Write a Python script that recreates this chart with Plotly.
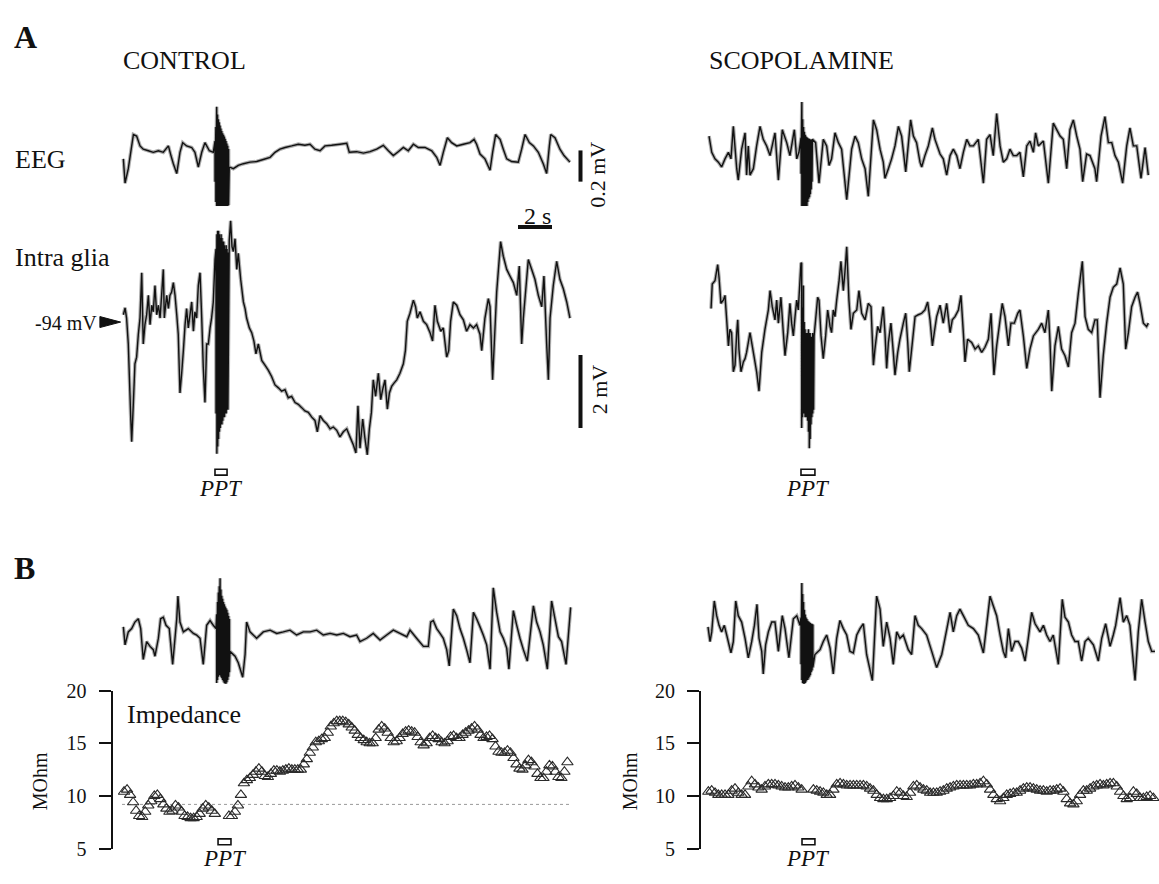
import numpy as np
import plotly.graph_objects as go

W, H = 1159, 884
FONT = "Liberation Serif"
INK = "#111111"

# ---------------- A, CONTROL ----------------
# EEG, (time s, µV)
ctrl_eeg = [(0.08, -54), (0.18, -210), (0.37, -117), (0.67, 102), (0.86, 92), (1.06, 29), (1.25, 8), (1.55, -2),
            (1.84, -12), (2.14, -2), (2.43, -12), (2.73, 29), (2.88, -33), (3.02, -85), (3.22, -148), (3.41, -12),
            (3.57, 50), (3.80, 29), (4.10, 19), (4.29, -12), (4.49, -106), (4.69, -12), (4.88, 50), (5.14, -2),
            (5.37, -12), (6.31, -106), (6.55, -117), (6.84, -96), (7.14, -85), (7.53, -75), (7.92, -71), (8.31, -58),
            (8.71, -44), (9.00, -12), (9.29, 8), (9.59, 19), (9.98, 29), (10.37, 40), (10.76, 33), (11.06, 40),
            (11.35, 8), (11.65, -2), (11.94, 29), (12.33, 33), (12.82, 40), (13.22, 46), (13.37, -12), (13.80, -8),
            (14.20, -17), (14.59, -8), (14.98, 8), (15.37, 33), (15.67, -2), (15.96, -33), (16.25, -8), (16.55, 19),
            (16.84, -2), (17.14, 40), (17.43, 19), (17.82, 19), (18.22, -2), (18.51, -44), (18.71, -96), (18.90, -12),
            (19.14, 81), (19.39, 50), (19.69, 29), (20.08, 40), (20.47, 50), (20.71, 71), (20.86, 40), (21.06, -23),
            (21.35, -54), (21.65, -127), (21.80, -12), (21.98, 102), (22.24, 71), (22.43, 8), (22.63, -54),
            (22.92, -71), (23.31, -75), (23.51, 8), (23.71, 102), (23.96, 50), (24.20, 29), (24.49, -12), (24.78, -85),
            (24.98, -148), (25.14, 29), (25.22, 102), (25.47, 81), (25.76, 8), (26.00, -33), (26.35, -75)]
# stimulation artefact: (time s, upper µV, lower µV)
ctrl_eeg_ppt = [(5.47, 60, -200), (5.52, 150, -330), (5.57, 280, -390), (5.62, 230, -400), (5.67, 200, -410),
                (5.72, 180, -415), (5.77, 160, -420), (5.82, 140, -420), (5.87, 125, -425), (5.92, 110, -425),
                (5.97, 100, -430), (6.02, 90, -430), (6.07, 75, -425), (6.12, 60, -420), (6.17, 45, -415),
                (6.22, 30, -400), (6.27, 10, -350)]

# intracellular glia, (time s, mV)
ctrl_intra = [(0.08, -93.80), (0.18, -93.61), (0.27, -93.89), (0.37, -94.60), (0.51, -96.56), (0.57, -97.27),
              (0.67, -96.20), (0.76, -95.14), (0.86, -94.96), (0.96, -94.34), (1.06, -93.89), (1.16, -92.65),
              (1.25, -94.60), (1.35, -94.07), (1.45, -93.80), (1.55, -93.27), (1.65, -94.07), (1.75, -93.54),
              (1.84, -93.72), (1.94, -93.00), (2.04, -93.80), (2.14, -93.54), (2.24, -93.89), (2.33, -93.27),
              (2.43, -92.56), (2.49, -93.89), (2.63, -93.27), (2.73, -93.63), (2.82, -93.27), (2.92, -93.18),
              (3.02, -92.92), (3.12, -93.27), (3.22, -93.80), (3.31, -94.34), (3.41, -95.94), (3.51, -95.40),
              (3.61, -94.78), (3.71, -94.07), (3.80, -93.63), (3.90, -94.16), (4.00, -93.80), (4.10, -93.45),
              (4.20, -94.25), (4.29, -93.72), (4.39, -93.89), (4.49, -93.00), (4.59, -92.65), (4.69, -93.89),
              (4.78, -95.23), (4.88, -96.20), (4.98, -94.60), (5.08, -94.60), (5.18, -94.16), (5.27, -93.89),
              (5.37, -93.45), (5.47, -92.29),
              (6.31, -91.76), (6.39, -91.23), (6.47, -91.94), (6.55, -92.07), (6.65, -91.72), (6.75, -92.56),
              (6.84, -92.12), (6.98, -92.83), (7.14, -93.45), (7.24, -93.63), (7.33, -93.89), (7.49, -94.16),
              (7.63, -94.29), (7.76, -94.52), (7.88, -94.87), (8.02, -94.60), (8.22, -95.05), (8.41, -95.18),
              (8.61, -95.32), (8.80, -95.49), (9.00, -95.72), (9.20, -95.80), (9.39, -95.89), (9.59, -95.85),
              (9.78, -96.07), (9.98, -96.03), (10.18, -96.20), (10.37, -96.25), (10.57, -96.34), (10.76, -96.43),
              (10.96, -96.47), (11.16, -96.60), (11.35, -96.69), (11.49, -97.00), (11.65, -96.56), (11.84, -96.69),
              (12.04, -96.78), (12.24, -96.92), (12.43, -96.87), (12.63, -96.96), (12.82, -97.14), (13.02, -97.00),
              (13.22, -96.92), (13.41, -97.14), (13.61, -97.36), (13.76, -97.58), (13.88, -96.29), (14.00, -97.45),
              (14.16, -96.65), (14.29, -97.18), (14.43, -97.63), (14.55, -96.92), (14.67, -96.47), (14.78, -95.58),
              (14.92, -96.03), (15.08, -95.40), (15.22, -96.12), (15.33, -95.85), (15.47, -95.58), (15.61, -96.38),
              (15.73, -95.94), (15.86, -95.76), (16.00, -95.67), (16.16, -95.58), (16.35, -95.40), (16.55, -95.14),
              (16.67, -94.78), (16.78, -93.98), (16.94, -93.76), (17.14, -93.40), (17.27, -93.58), (17.37, -93.89),
              (17.53, -93.72), (17.73, -93.98), (17.92, -94.07), (18.12, -94.29), (18.27, -94.52), (18.41, -93.54),
              (18.55, -93.98), (18.75, -94.25), (18.90, -94.16), (19.10, -94.96), (19.22, -94.78), (19.33, -93.98),
              (19.49, -93.45), (19.69, -93.54), (19.88, -93.80), (20.08, -93.94), (20.27, -94.25), (20.47, -94.07),
              (20.67, -94.16), (20.86, -94.07), (21.06, -94.34), (21.16, -94.78), (21.35, -93.89), (21.55, -93.36),
              (21.65, -93.58), (21.80, -95.58), (22.04, -93.18), (22.27, -91.80), (22.43, -92.20), (22.63, -92.56),
              (22.82, -92.74), (23.02, -92.92), (23.22, -93.27), (23.37, -92.47), (23.51, -94.60), (23.61, -93.89),
              (23.90, -92.29), (24.10, -92.56), (24.29, -92.83), (24.49, -93.27), (24.69, -93.58), (24.82, -92.74),
              (24.98, -94.60), (25.08, -95.58), (25.18, -93.89), (25.37, -93.00), (25.57, -92.34), (25.76, -92.83),
              (25.96, -93.09), (26.16, -93.45), (26.35, -93.89)]
ctrl_intra_ppt = [(5.53, -92.0, -96.5), (5.58, -91.6, -97.6), (5.63, -91.5, -97.4), (5.68, -91.5, -97.2),
                  (5.73, -91.6, -97.0), (5.78, -91.7, -96.9), (5.83, -91.6, -96.8), (5.88, -91.7, -96.8),
                  (5.93, -91.8, -96.7), (5.98, -91.8, -96.6), (6.03, -91.9, -96.6), (6.08, -92.0, -96.5),
                  (6.13, -91.9, -96.5), (6.18, -92.0, -96.4), (6.23, -92.1, -96.4)]

# ---------------- A, SCOPOLAMINE ----------------
scop_eeg = [(0.06, 92), (0.22, -12), (0.41, -54), (0.61, -75), (0.80, -106), (1.00, -54), (1.20, -12), (1.35, -54),
            (1.49, 154), (1.69, -117), (1.78, -190), (1.98, 8), (2.18, 113), (2.27, -158), (2.37, 29), (2.47, -158),
            (2.67, -117), (2.86, 29), (3.06, 154), (3.25, 71), (3.45, 29), (3.65, -33), (3.94, 113), (4.14, -190),
            (4.37, 133), (4.63, 50), (4.82, -33), (5.08, 133), (5.22, -54), (5.35, -12),
            (6.14, 71), (6.33, 50), (6.53, -210), (6.78, 71), (6.98, 29), (7.12, -96), (7.27, -54), (7.47, 113),
            (7.67, 50), (7.86, 8), (8.16, -315), (8.45, 8), (8.65, 92), (8.84, 50), (9.04, -54), (9.24, -117),
            (9.43, -294), (9.73, 196), (9.92, 133), (10.12, 8), (10.31, -75), (10.41, -179), (10.61, -117),
            (10.80, -54), (11.00, 29), (11.20, 154), (11.39, 92), (11.63, -137), (11.92, 196), (12.08, 92),
            (12.27, 50), (12.47, -75), (12.57, -106), (12.76, -33), (12.96, 29), (13.20, 144), (13.35, 71),
            (13.65, -23), (13.84, -54), (14.04, -158), (14.24, -33), (14.43, 8), (14.63, -33), (14.82, -117),
            (15.02, -12), (15.22, 71), (15.41, 29), (15.61, 29), (15.90, 71), (16.20, -210), (16.39, 71),
            (16.59, 102), (16.78, -33), (16.98, 237), (17.18, 29), (17.37, -75), (17.57, -54), (17.76, 8),
            (17.96, -33), (18.16, -33), (18.35, -12), (18.55, -169), (18.75, 29), (18.94, 60), (19.14, -12),
            (19.27, 113), (19.43, 29), (19.73, 60), (20.02, -210), (20.31, 175), (20.51, 133), (20.71, 92),
            (20.90, 71), (21.10, -117), (21.29, 133), (21.49, 196), (21.69, 92), (21.88, 8), (22.04, -200),
            (22.27, -23), (22.47, -33), (22.76, -117), (22.86, -200), (23.12, 92), (23.35, 217), (23.55, 50),
            (23.75, 50), (23.94, -33), (24.14, -75), (24.39, -210), (24.63, 29), (24.82, 144), (25.02, 29),
            (25.22, 29), (25.47, -179), (25.71, 19), (25.90, -158)]
scop_eeg_ppt = [(5.47, 80, -150), (5.52, 310, -460), (5.57, 200, -500), (5.62, 150, -480), (5.67, 120, -460),
                (5.72, 100, -440), (5.77, 90, -400), (5.82, 85, -360), (5.87, 80, -330), (5.92, 75, -310),
                (5.97, 75, -300), (6.02, 70, -280), (6.07, 70, -250), (6.12, 60, -200)]

scop_intra = [(0.18, -93.63), (0.25, -92.96), (0.41, -92.87), (0.57, -92.43), (0.65, -92.78), (0.76, -93.49),
              (0.90, -93.40), (1.00, -93.27), (1.10, -93.94), (1.20, -94.65), (1.29, -94.20), (1.39, -94.29),
              (1.49, -95.36), (1.59, -95.18), (1.69, -94.29), (1.75, -93.94), (1.82, -94.74), (1.94, -95.36),
              (2.08, -95.09), (2.18, -95.00), (2.27, -94.83), (2.37, -94.56), (2.47, -94.29), (2.57, -94.56),
              (2.73, -95.00), (2.86, -95.36), (3.00, -95.89), (3.16, -94.83), (3.35, -94.20), (3.55, -93.67),
              (3.65, -93.14), (3.78, -93.58), (3.94, -93.94), (4.04, -93.40), (4.14, -94.03), (4.29, -93.32),
              (4.43, -94.29), (4.53, -94.92), (4.69, -94.29), (4.82, -93.49), (4.92, -94.03), (5.02, -94.38),
              (5.12, -93.85), (5.22, -93.40), (5.31, -93.67), (5.47, -92.38),
              (6.24, -94.38), (6.33, -93.94), (6.45, -93.32), (6.53, -93.40), (6.65, -94.38), (6.78, -95.00),
              (6.92, -94.38), (7.04, -93.67), (7.18, -94.12), (7.27, -94.29), (7.37, -93.67), (7.47, -93.85),
              (7.57, -93.40), (7.71, -92.87), (7.82, -92.34), (7.96, -93.14), (8.06, -92.60), (8.16, -91.94),
              (8.29, -93.40), (8.41, -94.20), (8.55, -93.76), (8.75, -93.67), (8.88, -93.14), (9.04, -93.76),
              (9.24, -93.94), (9.43, -93.49), (9.59, -93.58), (9.73, -95.18), (9.82, -94.74), (9.98, -94.12),
              (10.12, -94.29), (10.31, -93.58), (10.41, -94.29), (10.51, -95.27), (10.61, -94.56), (10.76, -94.03),
              (10.90, -94.83), (11.00, -95.45), (11.16, -94.83), (11.29, -94.47), (11.49, -94.03), (11.63, -93.76),
              (11.75, -94.56), (11.84, -95.36), (11.98, -94.74), (12.18, -93.85), (12.37, -93.80), (12.57, -93.76),
              (12.76, -93.67), (12.92, -93.45), (13.06, -93.94), (13.20, -94.65), (13.31, -94.29), (13.45, -93.85),
              (13.65, -93.54), (13.84, -94.03), (14.04, -93.49), (14.24, -94.29), (14.37, -93.94), (14.53, -93.85),
              (14.73, -93.67), (14.88, -93.27), (15.02, -94.29), (15.12, -95.09), (15.27, -94.47), (15.51, -94.56),
              (15.71, -94.74), (15.90, -94.65), (16.10, -94.83), (16.29, -94.69), (16.49, -94.47), (16.65, -93.76),
              (16.82, -95.45), (16.98, -94.65), (17.18, -93.94), (17.31, -93.49), (17.47, -93.85), (17.67, -94.65),
              (17.82, -94.03), (18.02, -94.03), (18.22, -93.76), (18.35, -93.67), (18.55, -94.38), (18.75, -95.27),
              (18.94, -94.74), (19.14, -94.38), (19.43, -94.20), (19.63, -94.03), (19.82, -94.29), (20.02, -93.67),
              (20.12, -94.56), (20.22, -95.89), (20.41, -94.65), (20.61, -94.12), (20.80, -94.74), (21.00, -94.92),
              (21.20, -95.23), (21.39, -94.29), (21.59, -94.03), (21.78, -93.23), (22.02, -92.34), (22.18, -93.85),
              (22.37, -94.20), (22.57, -94.29), (22.76, -93.94), (22.90, -93.94), (23.06, -96.07), (23.25, -94.92),
              (23.45, -94.03), (23.65, -93.32), (23.84, -93.05), (24.04, -92.96), (24.24, -92.52), (24.43, -92.96),
              (24.57, -94.74), (24.73, -94.29), (24.92, -93.58), (25.12, -93.32), (25.27, -93.18), (25.41, -93.49),
              (25.61, -94.03), (25.80, -94.12), (25.90, -94.03)]
scop_intra_ppt = [(5.51, -92.4, -96.9), (5.56, -93.6, -96.6), (5.61, -93.0, -96.5), (5.66, -94.0, -96.5),
                  (5.71, -94.2, -96.6), (5.76, -94.3, -96.6), (5.81, -94.3, -96.6), (5.86, -94.3, -96.7),
                  (5.91, -94.2, -97.0), (5.96, -94.3, -97.45), (6.01, -94.3, -97.2), (6.06, -94.4, -96.8),
                  (6.11, -94.4, -96.6), (6.16, -94.3, -96.5), (6.21, -94.4, -96.4)]

# ---------------- B, EEG (µV) ----------------
ctrl_eeg_b = [(0.08, 40), (0.18, -75), (0.37, 8), (0.57, 29), (0.76, 71), (0.96, 92), (1.10, 29), (1.25, -169),
              (1.45, -54), (1.65, -85), (1.84, -106), (1.94, -148), (2.14, -33), (2.27, 92), (2.43, 102), (2.59, 50),
              (2.78, 29), (2.98, -200), (3.22, 92), (3.29, 237), (3.41, 71), (3.61, 8), (3.90, 29), (4.20, -2),
              (4.39, -12), (4.59, -33), (4.78, -200), (4.98, 50), (5.18, 81), (5.37, 50), (5.53, 29),
              (6.35, -117), (6.65, -148), (6.84, -190), (7.10, -283), (7.24, -137), (7.33, 71), (7.53, 8),
              (7.92, -33), (8.31, 8), (8.71, 19), (9.10, -2), (9.49, 8), (9.88, 19), (10.27, -12), (10.67, 8),
              (11.06, 8), (11.45, 19), (11.84, -12), (12.24, -2), (12.63, -12), (13.02, -2), (13.41, -23),
              (13.80, -12), (14.00, -54), (14.39, -33), (14.78, -2), (15.18, -44), (15.57, -12), (15.96, 19),
              (16.35, -2), (16.75, -23), (16.94, 19), (17.33, -33), (17.73, -85), (18.02, -85), (18.16, 71),
              (18.31, 81), (18.51, 29), (18.71, -2), (18.90, -33), (19.10, -106), (19.25, -210), (19.49, 154),
              (19.69, 112), (19.88, 29), (20.08, -33), (20.27, -106), (20.47, -190), (20.67, 133), (20.86, 92),
              (21.06, 40), (21.25, -12), (21.45, -75), (21.65, -231), (21.84, 290), (22.04, 133), (22.24, 8),
              (22.43, -33), (22.63, -96), (22.76, -231), (23.02, 144), (23.22, 50), (23.41, -33), (23.61, -106),
              (23.84, -179), (24.20, 175), (24.39, 71), (24.59, 8), (24.78, -75), (25.02, -231), (25.27, 206),
              (25.47, 92), (25.67, -23), (25.86, -54), (26.12, -200), (26.39, 165)]
ctrl_eeg_b_ppt = [(5.57, 120, -320), (5.62, 200, -300), (5.67, 260, -280), (5.72, 300, -270), (5.77, 352, -270),
                  (5.82, 280, -280), (5.87, 240, -290), (5.92, 220, -300), (5.97, 200, -310), (6.02, 185, -320),
                  (6.07, 170, -325), (6.12, 160, -325), (6.17, 150, -315), (6.22, 130, -300), (6.27, 110, -280),
                  (6.32, 90, -250)]

scop_eeg_b = [(0.00, 40), (0.12, -54), (0.22, 8), (0.37, 206), (0.51, 112), (0.65, 50), (0.80, 8), (0.96, 50),
              (1.10, -12), (1.35, -127), (1.49, -54), (1.63, 206), (1.78, 112), (1.98, 71), (2.18, -33),
              (2.37, -158), (2.57, -54), (2.73, 50), (2.88, 185), (3.00, -33), (3.16, -117), (3.25, -262),
              (3.39, -75), (3.55, 8), (3.75, 71), (3.94, 71), (4.14, -117), (4.37, 112), (4.53, 29), (4.76, -158),
              (5.02, 92), (5.22, 112), (5.41, 50),
              (6.29, -137), (6.59, -106), (6.78, -54), (6.98, -12), (7.18, -96), (7.37, -262), (7.57, -33),
              (7.76, 81), (7.96, 29), (8.16, -12), (8.35, -117), (8.55, -127), (8.75, -12), (8.94, 29), (9.14, 60),
              (9.33, -137), (9.67, -304), (9.92, 237), (10.12, 154), (10.31, -85), (10.51, 71), (10.71, -33),
              (10.90, -200), (11.10, 8), (11.29, -33), (11.49, -12), (11.78, -106), (11.98, -137), (12.18, 112),
              (12.37, 50), (12.57, 29), (12.86, -12), (13.16, -117), (13.45, -221), (13.75, -137), (13.94, -33),
              (14.24, 133), (14.43, 8), (14.63, 112), (14.82, 154), (15.02, 112), (15.31, 50), (15.61, 29),
              (15.90, -12), (16.20, -127), (16.59, 237), (16.78, 175), (16.98, 112), (17.18, -12), (17.37, -117),
              (17.51, -158), (17.67, 29), (17.86, -117), (18.06, -54), (18.25, -54), (18.45, -96), (18.65, -179),
              (18.84, -33), (19.04, 133), (19.24, 60), (19.53, 8), (19.73, 50), (19.92, -12), (20.12, -54),
              (20.31, -12), (20.61, -200), (20.84, 217), (21.00, 102), (21.20, 71), (21.39, -12), (21.59, -54),
              (21.78, -54), (21.98, -179), (22.18, -54), (22.37, -33), (22.67, -75), (22.96, -179), (23.16, -33),
              (23.39, 60), (23.65, -85), (23.84, -12), (23.98, 50), (24.24, 227), (24.43, 71), (24.63, 112),
              (24.82, 50), (25.12, -304), (25.31, 8), (25.51, 217), (25.71, 71), (25.90, -54), (26.10, -117),
              (26.29, -117)]
scop_eeg_b_ppt = [(5.47, 100, -200), (5.52, 321, -300), (5.57, 250, -320), (5.62, 200, -325), (5.67, 150, -325),
                  (5.72, 120, -320), (5.77, 100, -310), (5.82, 90, -300), (5.87, 80, -300), (5.92, 75, -290),
                  (5.97, 70, -280), (6.02, 65, -270), (6.07, 60, -250), (6.12, 60, -240), (6.17, 55, -220)]

# ---------------- B, impedance (MOhm), regularly sampled ----------------
ctrl_imp_pre = [10.4, 10.6, 10.1, 9.4, 8.6, 8.1, 8.0, 8.5, 9.1, 9.5, 10.0, 10.1, 9.7, 9.2, 8.8, 8.5, 8.6, 9.1,
                8.9, 8.5, 8.1, 8.0, 7.9, 7.9, 8.0, 8.3, 8.8, 9.1, 8.9, 8.6, 8.3]
ctrl_imp_post = [8.1, 8.1, 8.5, 9.1, 10.1, 11.2, 11.5, 11.7, 12.0, 12.3, 12.6, 12.3, 11.9, 11.8, 12.1, 12.4, 12.4,
                 12.3, 12.4, 12.5, 12.6, 12.5, 12.5, 12.5, 12.5, 13.0, 13.5, 14.1, 14.6, 15.1, 15.2, 15.4, 15.5,
                 16.0, 16.6, 16.9, 17.1, 17.1, 17.1, 17.0, 16.8, 16.5, 16.2, 15.8, 15.5, 15.3, 15.1, 15.0, 15.0,
                 15.5, 16.3, 16.6, 16.4, 16.0, 15.5, 15.1, 15.2, 15.5, 15.9, 16.1, 16.2, 16.1, 16.0, 15.6, 15.1,
                 14.8, 15.0, 15.5, 15.7, 15.5, 15.4, 15.1, 15.0, 15.2, 15.6, 15.7, 15.5, 15.5, 15.8, 16.0, 16.2,
                 16.4, 16.6, 16.3, 15.8, 15.5, 15.6, 15.7, 15.4, 14.7, 14.2, 14.1, 14.1, 14.3, 14.1, 13.6, 13.0,
                 12.6, 12.5, 12.9, 13.4, 13.2, 12.8, 12.1, 11.7, 11.7, 12.3, 12.9, 12.8, 12.3, 11.8, 11.7, 12.3, 13.2]
ctrl_imp_spans = [(0.12, 5.46), (6.29, 26.20)]

scop_imp_pre = [10.4, 10.5, 10.3, 10.1, 10.1, 10.1, 10.1, 10.5, 10.7, 10.3, 10.1, 10.1, 10.9, 11.4, 11.1, 10.8,
                10.6, 10.9, 11.1, 11.1, 11.1, 11.0, 10.9, 10.8, 10.8, 10.9, 11.0, 10.8, 10.6]
scop_imp_post = [10.6, 10.5, 10.4, 10.3, 10.1, 10.1, 10.6, 11.1, 11.2, 11.1, 11.0, 11.0, 11.0, 11.0, 11.0, 11.0,
                 10.9, 10.7, 10.5, 10.1, 9.8, 9.7, 9.7, 9.8, 10.0, 10.4, 10.3, 10.0, 9.9, 10.3, 10.9, 11.0, 10.8,
                 10.6, 10.5, 10.3, 10.3, 10.3, 10.4, 10.5, 10.7, 10.8, 10.9, 11.0, 11.0, 11.0, 11.0, 11.0, 11.1,
                 11.1, 11.2, 11.4, 11.1, 10.6, 10.1, 9.7, 9.5, 9.8, 10.1, 10.2, 10.3, 10.3, 10.5, 10.7, 10.8, 10.8,
                 10.7, 10.6, 10.5, 10.5, 10.4, 10.5, 10.5, 10.6, 10.7, 10.4, 9.7, 9.3, 9.2, 9.5, 10.1, 10.5, 10.5,
                 10.7, 10.9, 11.0, 11.1, 11.0, 11.1, 11.2, 11.2, 10.9, 10.4, 10.0, 9.7, 9.8, 10.4, 10.2, 9.8, 9.8,
                 9.9, 10.0, 9.8]
scop_imp_spans = [(0.02, 5.51), (6.20, 26.20)]

ctrl_imp_baseline = 9.2      # pre-stimulus impedance level (MOhm)
imp_ticks = [5, 10, 15, 20]

# stimulation windows (s)
ppt_a_ctrl = (5.47, 6.18)
ppt_a_scop = (5.47, 6.29)
ppt_b_ctrl = (5.65, 6.41)
ppt_b_scop = (5.53, 6.29)

# calibration bars
bar_time_s = 2.0
bar_eeg_uv = 200.0
bar_intra_mv = 2.0
rest_mv = -94.0

# ---------------- page geometry ----------------
PX_PER_S = 17.0
EEG_PX_PER_UV = 0.16
INTRA_PX_PER_MV = 37.5
CTRL_T0_PX, SCOP_T0_PX = 122.0, 708.0


def time_axis(left_px, right_px, t0_px, anchor):
    return dict(domain=[left_px / W, right_px / W],
                range=[(left_px - t0_px) / PX_PER_S, (right_px - t0_px) / PX_PER_S],
                visible=False, anchor=anchor)


def value_axis(top_px, bottom_px, ref_px, ref_val, px_per_unit, anchor):
    return dict(domain=[1 - bottom_px / H, 1 - top_px / H],
                range=[ref_val - (bottom_px - ref_px) / px_per_unit, ref_val + (ref_px - top_px) / px_per_unit],
                visible=False, anchor=anchor)


def imp_axis(pos_px):
    return dict(domain=[1 - 859 / H, 1 - 697 / H], range=[5, 20], anchor="free", position=pos_px / W,
                showline=True, linecolor=INK, linewidth=2, ticks="outside", ticklen=12, tickwidth=2,
                tickcolor=INK, tickvals=imp_ticks, ticklabelstandoff=8,
                tickfont=dict(family=FONT, size=20, color=INK), showgrid=False, zeroline=False)


def splice(trace, burst):
    """Insert the stimulation artefact (vertical sweeps) into a trace."""
    t0, t1 = burst[0][0], burst[-1][0]
    xs = [p[0] for p in trace if p[0] < t0]
    ys = [p[1] for p in trace if p[0] < t0]
    for t, hi, lo in burst:
        xs += [t, t]
        ys += [hi, lo]
    xs += [p[0] for p in trace if p[0] > t1]
    ys += [p[1] for p in trace if p[0] > t1]
    return xs, ys


fig = go.Figure()


def add_line(trace, burst, xa, ya):
    xs, ys = splice(trace, burst)
    # soft halo for the recording noise band, then the sharp trace on top
    fig.add_trace(go.Scatter(x=xs, y=ys, xaxis=xa, yaxis=ya, mode="lines",
                             line=dict(color="rgba(20,20,20,0.35)", width=3.6, simplify=False), hoverinfo="skip"))
    fig.add_trace(go.Scatter(x=xs, y=ys, xaxis=xa, yaxis=ya, mode="lines",
                             line=dict(color=INK, width=1.4, simplify=False), hoverinfo="skip"))


add_line(ctrl_eeg, ctrl_eeg_ppt, "x", "y")
add_line(ctrl_intra, ctrl_intra_ppt, "x", "y2")
add_line(scop_eeg, scop_eeg_ppt, "x2", "y3")
add_line(scop_intra, scop_intra_ppt, "x2", "y4")
add_line(ctrl_eeg_b, ctrl_eeg_b_ppt, "x", "y5")
add_line(scop_eeg_b, scop_eeg_b_ppt, "x2", "y6")

# impedance baseline
fig.add_trace(go.Scatter(x=[0.0, 26.4], y=[ctrl_imp_baseline, ctrl_imp_baseline], xaxis="x", yaxis="y7",
                         mode="lines", line=dict(color="#9a9a9a", width=1, dash="dot"), hoverinfo="skip"))


def add_imp(segments, spans, xa, ya):
    for vals, (ta, tb) in zip(segments, spans):
        fig.add_trace(go.Scatter(x=np.linspace(ta, tb, len(vals)), y=vals, xaxis=xa, yaxis=ya, mode="markers",
                                 marker=dict(symbol="triangle-up-open", size=10, color="#2a2a2a",
                                             line=dict(width=1.1)),
                                 hoverinfo="skip"))


add_imp([ctrl_imp_pre, ctrl_imp_post], ctrl_imp_spans, "x", "y7")
add_imp([scop_imp_pre, scop_imp_post], scop_imp_spans, "x2", "y8")

# ---------------- calibration bars, arrow, stimulus boxes ----------------
shapes = []
bar_x = (580.5 - CTRL_T0_PX) / PX_PER_S
bar_t0 = (518 - CTRL_T0_PX) / PX_PER_S
shapes.append(dict(type="line", xref="x", yref="y2", x0=bar_t0, x1=bar_t0 + bar_time_s,
                   y0=rest_mv + 2.6, y1=rest_mv + 2.6, line=dict(color=INK, width=4)))
shapes.append(dict(type="line", xref="x", yref="y", x0=bar_x, x1=bar_x, y0=0, y1=-bar_eeg_uv,
                   line=dict(color=INK, width=4)))
shapes.append(dict(type="line", xref="x", yref="y2", x0=bar_x, x1=bar_x, y0=rest_mv - 0.9,
                   y1=rest_mv - 0.9 - bar_intra_mv, line=dict(color=INK, width=4)))
# resting-potential arrowhead
shapes.append(dict(type="path", xref="x", yref="y2",
                   path=f"M -1.3,{rest_mv + 0.15} L -0.08,{rest_mv} L -1.3,{rest_mv - 0.15} Z",
                   fillcolor=INK, line=dict(color=INK, width=1)))


def ppt_box(xa, window, top_px, bottom_px):
    shapes.append(dict(type="rect", xref=xa, yref="paper", x0=window[0], x1=window[1],
                       y0=1 - bottom_px / H, y1=1 - top_px / H, line=dict(color=INK, width=1.6),
                       fillcolor="white"))


ppt_box("x", ppt_a_ctrl, 470, 476)
ppt_box("x2", ppt_a_scop, 470, 476)
ppt_box("x", ppt_b_ctrl, 849, 855)
ppt_box("x2", ppt_b_scop, 849, 855)

# ---------------- text ----------------
ann = []


def text(s, x_px, y_px, size, xanchor="left", angle=0, xref="paper", x=None):
    ann.append(dict(text=s, xref=xref, yref="paper", x=(x if x is not None else x_px / W), y=1 - y_px / H,
                    xanchor=xanchor, yanchor="middle", showarrow=False, textangle=angle,
                    font=dict(family=FONT, size=size, color=INK)))


text("<b>A</b>", 12, 27, 32)
text("<b>B</b>", 12, 571, 32)
text("CONTROL", 121, 51, 26)
text("SCOPOLAMINE", 707, 51, 26)
text("EEG", 13, 152, 26)
text("Intra glia", 13, 253, 26)
text("-94 mV", 99, 320, 20, xanchor="right")
text("2 s", 537, 210, 24, xanchor="center")
text("0.2 mV", 598, 168, 22, xanchor="center", angle=-90)
text("2 mV", 599, 388, 22, xanchor="center", angle=-90)
text("Impedance", 125, 721, 26)
text("MOhm", 40, 790, 20, xanchor="center", angle=-90)
text("MOhm", 630, 790, 20, xanchor="center", angle=-90)
for xa, win, y_px in [("x", ppt_a_ctrl, 490), ("x2", ppt_a_scop, 490), ("x", ppt_b_ctrl, 869),
                      ("x2", ppt_b_scop, 869)]:
    text("<i>PPT</i>", 0, y_px, 23, xanchor="center", xref=xa, x=(win[0] + win[1]) / 2)

fig.update_layout(
    width=W, height=H, margin=dict(l=0, r=0, t=0, b=0),
    paper_bgcolor="white", plot_bgcolor="white", showlegend=False,
    xaxis=time_axis(0, 620, CTRL_T0_PX, "y"),
    xaxis2=time_axis(640, W, SCOP_T0_PX, "y3"),
    yaxis=value_axis(80, 240, 143, 0.0, EEG_PX_PER_UV, "x"),
    yaxis2=value_axis(200, 475, 319, rest_mv, INTRA_PX_PER_MV, "x"),
    yaxis3=value_axis(80, 240, 143, 0.0, EEG_PX_PER_UV, "x2"),
    yaxis4=value_axis(200, 475, 319, rest_mv, INTRA_PX_PER_MV, "x2"),
    yaxis5=value_axis(565, 700, 638, 0.0, EEG_PX_PER_UV, "x"),
    yaxis6=value_axis(565, 700, 638, 0.0, EEG_PX_PER_UV, "x2"),
    yaxis7=imp_axis(111.5),
    yaxis8=imp_axis(700),
    shapes=shapes, annotations=ann,
)

fig.write_html("out.html")
